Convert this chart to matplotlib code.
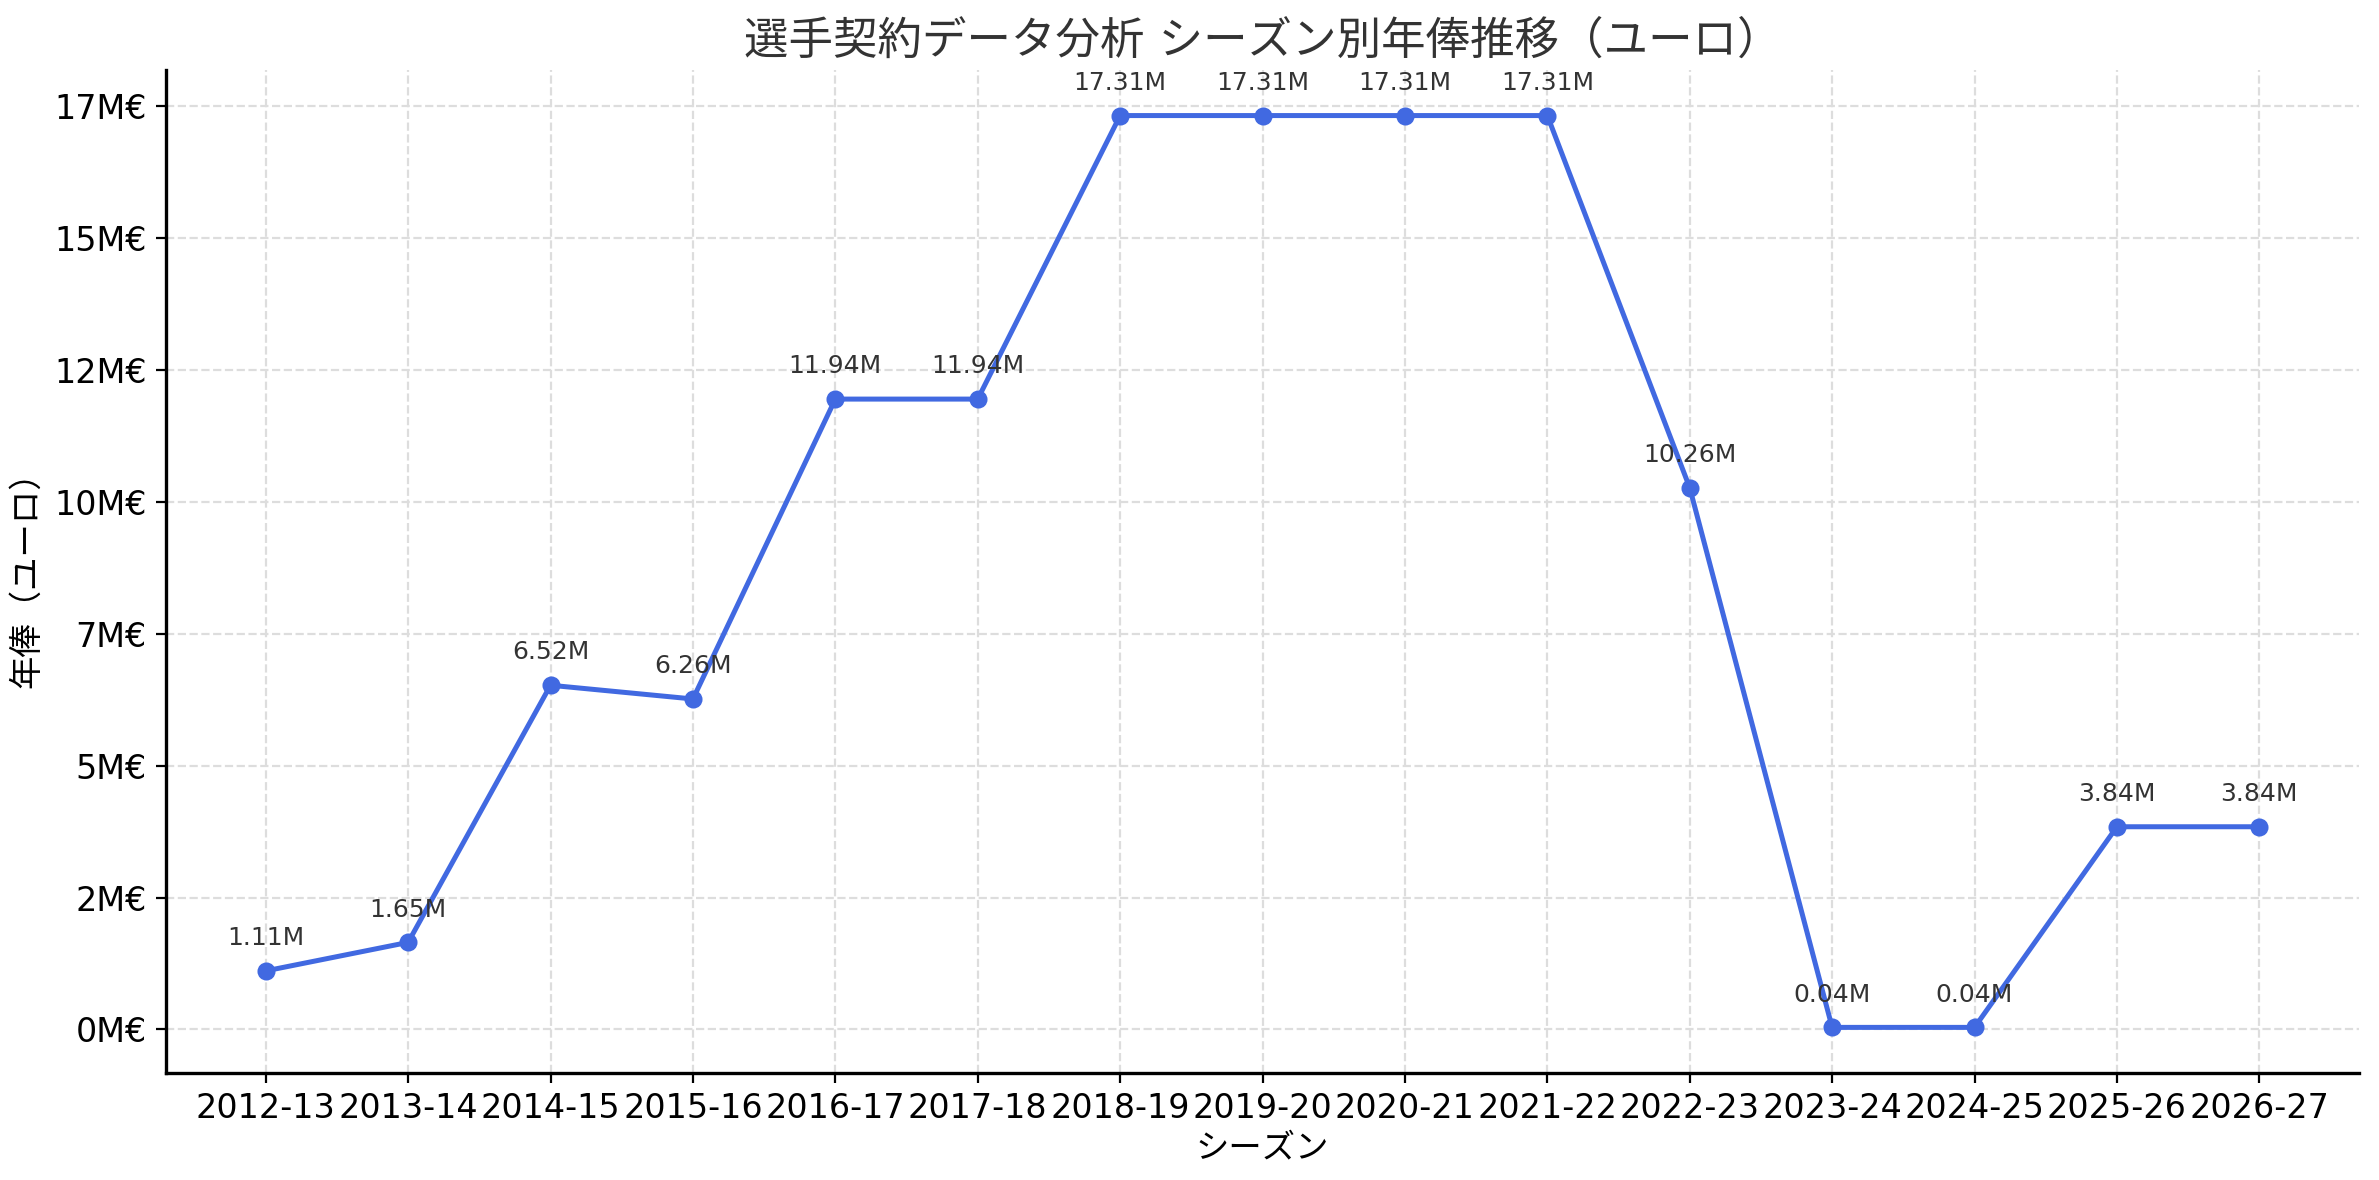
import matplotlib.pyplot as plt
from matplotlib.ticker import FuncFormatter, MultipleLocator

# Latin text in DejaVu Sans, Japanese falls back to Noto Sans CJK JP
plt.rcParams['font.family'] = ['DejaVu Sans', 'Noto Sans CJK JP']

# Seasons and values (EUR)
seasons = ["2012-13", "2013-14", "2014-15", "2015-16", "2016-17", "2017-18",
           "2018-19", "2019-20", "2020-21", "2021-22", "2022-23", "2023-24",
           "2024-25", "2025-26", "2026-27"]
values_m = [1.11, 1.65, 6.52, 6.26, 11.94, 11.94, 17.31, 17.31, 17.31, 17.31,
            10.26, 0.04, 0.04, 3.84, 3.84]
values = [v * 1e6 for v in values_m]

title = "選手契約データ分析 シーズン別年俸推移（ユーロ）"
xlabel = "シーズン"
ylabel = "年俸（ユーロ）"

fig = plt.figure(figsize=(11.895, 5.9), dpi=200)
ax = fig.add_axes([0.0698, 0.0907, 0.9218, 0.85])

x = range(len(seasons))
ax.plot(x, values, color="#4169E1", linewidth=1.8, marker="o", markersize=5.5)

# value labels above each point
for i, v in enumerate(values):
    ax.annotate(f"{v/1e6:.2f}M", (i, v), xytext=(0, 7.5), textcoords="offset points",
                ha="center", va="bottom", fontsize=9, color="#333333")

ax.set_xticks(list(x))
ax.set_xticklabels(seasons, fontsize=12)
ax.yaxis.set_major_locator(MultipleLocator(2.5e6))
ax.yaxis.set_major_formatter(FuncFormatter(lambda y, p: f"{int(y/1e6)}M€"))
ax.tick_params(axis="y", labelsize=12)

ax.set_title(title, fontsize=16, color="#333333", pad=6)
ax.set_xlabel(xlabel, fontsize=12, labelpad=2)
ax.set_ylabel(ylabel, fontsize=12)

ax.grid(True, linestyle="--", color="#dddddd", linewidth=0.8)
ax.set_axisbelow(True)
ax.spines["top"].set_visible(False)
ax.spines["right"].set_visible(False)
ax.spines["left"].set_linewidth(1.2)
ax.spines["bottom"].set_linewidth(1.2)

fig.savefig("out.png", dpi=200)
plt.close()
